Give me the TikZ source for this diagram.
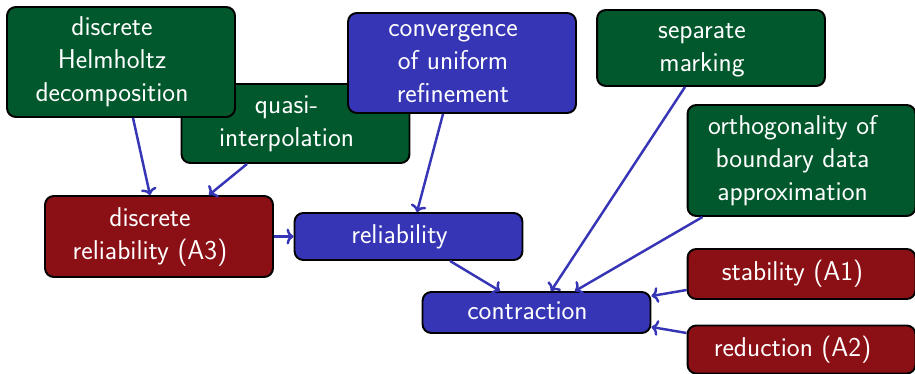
\documentclass[tikz,border=0pt]{standalone}
\usetikzlibrary{calc, positioning}
\usetikzlibrary{arrows.meta}
\definecolor{boxgreen}{RGB}{0,88,44}
\definecolor{boxred}{RGB}{139,16,21}
\definecolor{boxblue}{RGB}{53,53,181}
\newcommand{\boxtext}[1]{\begin{tabular}{@{}c@{}}#1\end{tabular}\kern0.36cm\null}

\begin{document}
\begin{tikzpicture}[x=0.02cm, y=-0.02cm, font=\fontsize{15.5}{18.8}\selectfont\sffamily]
\tikzset{box/.style={draw=black, line width=1.1pt, rounded corners=5pt, text=white, minimum width=4.56cm, inner sep=0pt}}
\tikzset{greenbox/.style={box, fill=boxgreen}, redbox/.style={box, fill=boxred}, bluebox/.style={box, fill=boxblue}}
\tikzset{link/.style={draw=boxblue, line width=1.4pt, -{To[length=4pt, width=9pt]}}}

\useasboundingbox (0,0) rectangle (915,374);

% upper row
\node[greenbox, minimum height=1.58cm] (quasi) at (295.5,123.5) {\boxtext{quasi-\\interpolation}};
\node[greenbox, minimum height=2.2cm] (helm) at (121,62) {\boxtext{discrete\\Helmholtz\\decomposition}};
\node[bluebox, minimum height=2cm] (conv) at (462,63) {\boxtext{convergence\\of uniform\\refinement}};
\node[greenbox, minimum height=1.52cm] (marking) at (711,48) {\boxtext{separate\\marking}};
\node[greenbox, minimum height=2.22cm] (orth) at (801.5,160.5) {\boxtext{orthogonality of\\boundary data\\approximation}};

% lower row
\node[redbox, minimum height=1.62cm] (drel) at (159,236.5) {\boxtext{discrete\\reliability (A3)}};
\node[bluebox, minimum height=0.94cm] (rel) at (408.5,236.5) {\boxtext{reliability}};
\node[bluebox, minimum height=0.82cm] (contr) at (536.5,312.5) {\boxtext{contraction}};
\node[redbox, minimum height=1cm] (stab) at (801.5,274) {\boxtext{stability (A1)}};
\node[redbox, minimum height=0.96cm] (red) at (801.5,349.5) {\boxtext{reduction (A2)}};

% implications
\draw[link] ([xshift=0.24cm]helm.south) -- ([xshift=-0.18cm]drel.north);
\draw[link] ([xshift=-0.97cm]quasi.south) -- ([xshift=-1.3cm]drel.north east);
\draw[link] ([xshift=-0.38cm]conv.south) -- ([xshift=0.17cm]rel.north);
\draw[link] (drel.east) -- (rel.west);
\draw[link] ([xshift=0.83cm]rel.south) -- ([xshift=-0.73cm]contr.north);
\draw[link] ([xshift=-0.52cm]marking.south) -- ([xshift=0.29cm]contr.north);
\draw[link] ([xshift=0.32cm]orth.south west) -- ([xshift=0.77cm]contr.north);
\draw[link] ([yshift=-0.32cm]stab.west) -- ([yshift=0.33cm]contr.east);
\draw[link] ([yshift=0.33cm]red.west) -- ([yshift=-0.29cm]contr.east);
\end{tikzpicture}
\end{document}
